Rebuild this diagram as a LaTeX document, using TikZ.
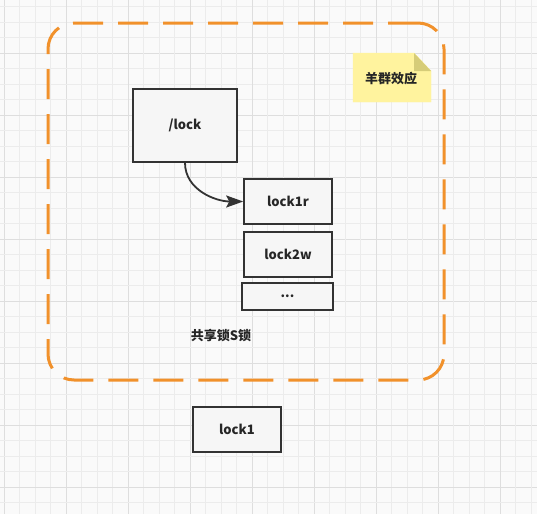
\documentclass[tikz,border=0pt]{standalone}
\usepackage{fontspec}
\setmainfont{Noto Sans CJK SC}
\usetikzlibrary{arrows.meta}
\definecolor{gridminor}{RGB}{236,236,236}
\definecolor{gridmajor}{RGB}{222,222,222}
\definecolor{boxline}{RGB}{51,51,51}
\definecolor{boxfill}{RGB}{246,246,246}
\definecolor{dashorange}{RGB}{241,145,43}
\definecolor{notefill}{RGB}{255,243,158}
\definecolor{notefold}{RGB}{214,204,120}
\tikzset{
  lockbox/.style={draw=boxline, line width=1.6pt, fill=boxfill, text=black!85,
    font=\fontsize{13}{15}\selectfont\bfseries, inner sep=0pt},
  arr/.style={-{Stealth[length=17pt,width=12pt,inset=3pt]}, line width=1.8pt, draw=boxline},
  groupbox/.style={draw=dashorange, line width=3pt, rounded corners=26pt,
    dash pattern=on 30pt off 15pt, inner sep=0pt},
  plainlabel/.style={text=black!85, font=\fontsize{13}{15}\selectfont\bfseries}
}

\begin{document}
\begin{tikzpicture}[x=1pt, y=-1pt]
  \useasboundingbox (0,0) rectangle (537,514);
  \fill[white!98!black] (0,0) rectangle (537,514);

  % background grid
  \foreach \k in {0,...,34}{
    \pgfmathtruncatemacro{\m}{mod(\k,4)}
    \ifnum\m=0
      \draw[gridmajor, line width=0.9pt] (4+15.5*\k,0) -- (4+15.5*\k,514);
      \draw[gridmajor, line width=0.9pt] (0,-9+15.5*\k) -- (537,-9+15.5*\k);
    \else
      \draw[gridminor, line width=0.8pt] (4+15.5*\k,0) -- (4+15.5*\k,514);
      \draw[gridminor, line width=0.8pt] (0,-9+15.5*\k) -- (537,-9+15.5*\k);
    \fi
  }

  \node[groupbox, minimum width=396pt, minimum height=357pt] (sgroup) at (246,201.5) {};

  % note
  \filldraw[fill=notefill, draw=notefill] (353,53) -- (414,53) -- (431,71) -- (431,102) -- (353,102) -- cycle;
  \fill[notefold] (414,53) -- (431,71) -- (414,71) -- cycle;
  \node[plainlabel] (herd) at (391,79) {羊群效应};

  \node[lockbox, minimum width=104pt, minimum height=73pt] (root) at (185,125.5) {/lock};
  \node[lockbox, minimum width=88pt, minimum height=45pt] (lockr) at (288,201.5) {lock1r};
  \node[lockbox, minimum width=88pt, minimum height=45pt] (lockw) at (288,254.5) {lock2w};
  \node[lockbox, minimum width=91pt, minimum height=27pt] (more) at (287.5,296.5) {...};
  \node[plainlabel] (slock) at (221,336) {共享锁S锁};
  \node[lockbox, minimum width=88pt, minimum height=45pt] (lockone) at (237,429.5) {lock1};

  \draw[arr] (root.south) to[out=-90, in=180] (lockr.west);
\end{tikzpicture}
\end{document}
